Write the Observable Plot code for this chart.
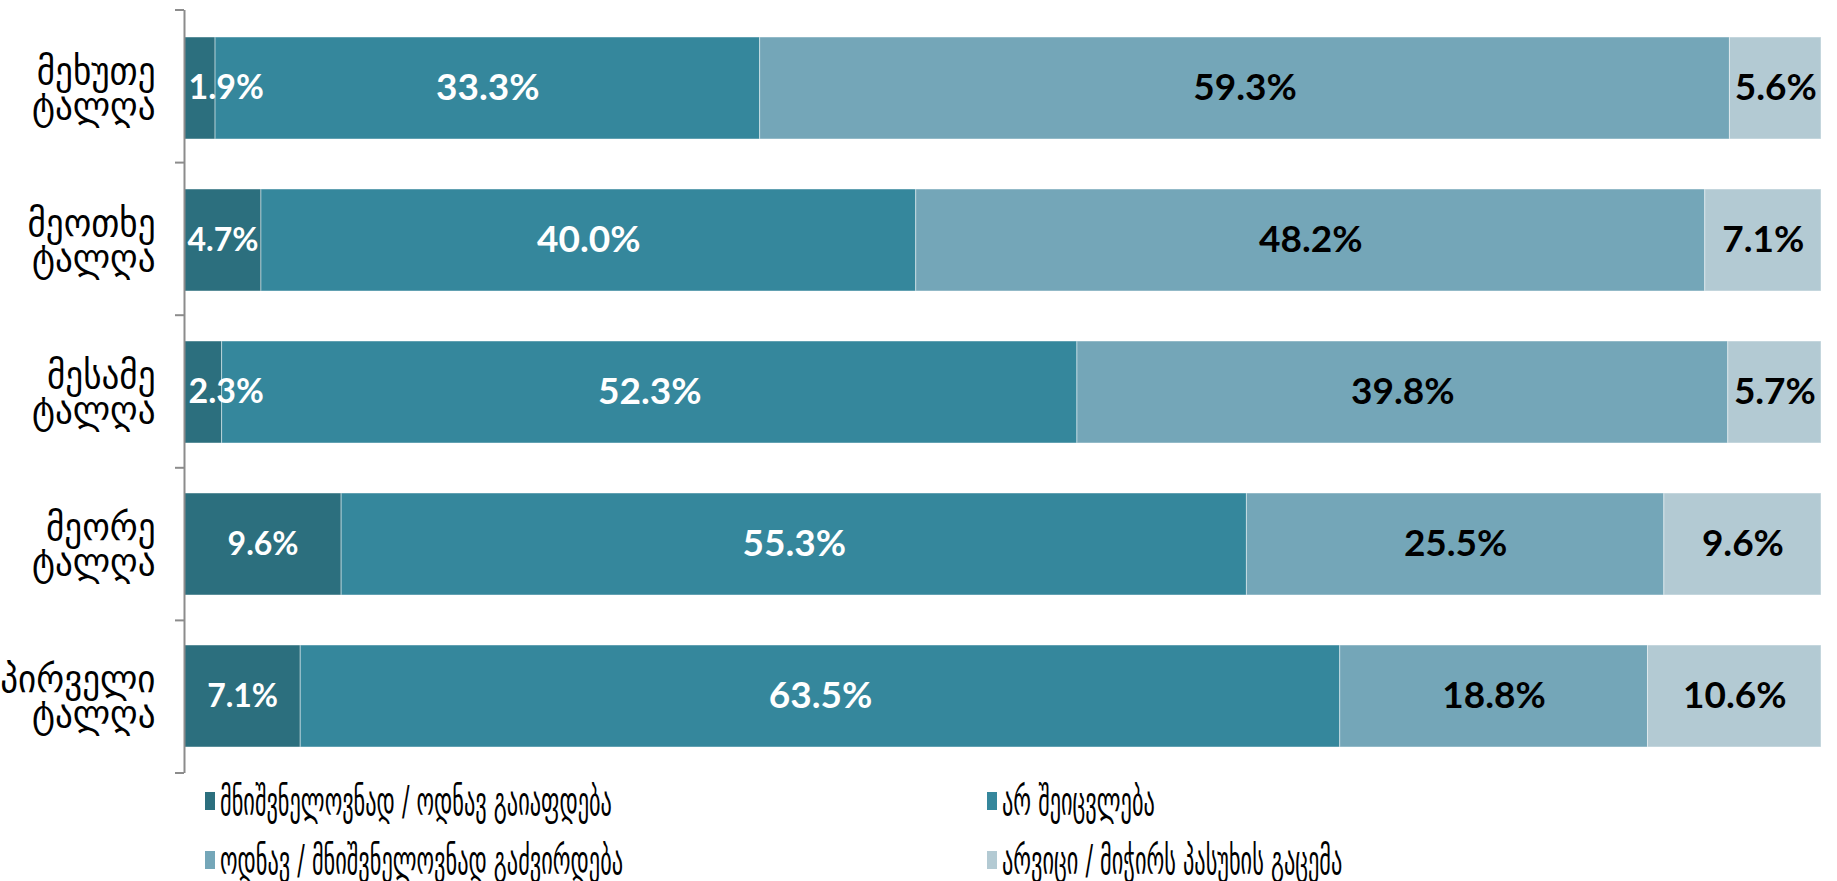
<!DOCTYPE html>
<html><head><meta charset="utf-8">
<script src="https://cdn.jsdelivr.net/npm/d3@7"></script>
<script src="https://cdn.jsdelivr.net/npm/@observablehq/plot@0.6"></script>
<style>
html,body{margin:0;padding:0;background:#fff;overflow:hidden;}
#legend{position:relative;width:1837px;height:105px;font-family:"DejaVu Sans Condensed","DejaVu Sans",sans-serif;color:#000;}
.item{position:absolute;height:30px;display:flex;align-items:center;white-space:nowrap;}
.sw{width:10px;height:18px;margin-right:5px;flex:none;}
.lb{font-size:40px;line-height:40px;display:inline-block;transform:scaleX(0.62);transform-origin:left center;}
</style></head>
<body><div id="chart"></div><div id="legend"></div>
<script>
const categories = ["მეხუთე ტალღა","მეოთხე ტალღა","მესამე ტალღა","მეორე ტალღა","პირველი ტალღა"];
const series = ["მნიშვნელოვნად / ოდნავ გაიაფდება","არ შეიცვლება","ოდნავ / მნიშვნელოვნად გაძვირდება","არვიცი / მიჭირს პასუხის გაცემა"];
const colors = ["#2c6f7e","#35879c","#74a6b8","#b3cad3"];
const cheaper  = [1.9, 4.7, 2.3, 9.6, 7.1];
const same     = [33.3, 40.0, 52.3, 55.3, 63.5];
const pricier  = [59.3, 48.2, 39.8, 25.5, 18.8];
const dontKnow = [5.6, 7.1, 5.7, 9.6, 10.6];
const seriesValues = [cheaper, same, pricier, dontKnow];

// build table (normalized 100% stacked)
const table = [];
categories.forEach((c, i) => {
  const total = d3.sum(seriesValues, s => s[i]);
  let acc = 0;
  seriesValues.forEach((s, k) => {
    const v = s[i];
    table.push({category: c, series: series[k], k, value: v, x1: acc / total, x2: (acc + v) / total});
    acc += v;
  });
});
const fmt = d => d.value.toFixed(1) + "%";
const mid = d => (d.x1 + d.x2) / 2;
const isSmall = d => d.value < 3;
const numFont = "Lato, 'Open Sans', sans-serif";

const plot = Plot.plot({
  width: 1837, height: 776,
  marginLeft: 184, marginRight: 16, marginTop: 10, marginBottom: 3,
  x: {domain: [0, 1], axis: null},
  y: {domain: categories, axis: null, padding: 0},
  color: {domain: series, range: colors},
  style: {background: "white", fontFamily: "'DejaVu Sans Condensed','DejaVu Sans',sans-serif"},
  marks: [
    Plot.barX(table, {x1: "x1", x2: "x2", y: "category", fill: "series", insetTop: 25, insetBottom: 25, stroke: "#ffffff", strokeOpacity: 0.45, strokeWidth: 1}),
    Plot.ruleX([0], {stroke: "#8c8c8c", strokeWidth: 2}),
    Plot.text(table.filter(d => d.k === 0 && !isSmall(d)), {x: mid, y: "category", text: fmt, fill: "white", fontSize: 32, fontWeight: 700, fontFamily: numFont}),
    Plot.text(table.filter(d => d.k === 0 && isSmall(d)), {x: "x1", y: "category", text: fmt, fill: "white", fontSize: 34, fontWeight: 700, fontFamily: numFont, textAnchor: "start", dx: 4}),
    Plot.text(table.filter(d => d.k === 1), {x: mid, y: "category", text: fmt, fill: "white", fontSize: 37, fontWeight: 700, fontFamily: numFont}),
    Plot.text(table.filter(d => d.k >= 2), {x: mid, y: "category", text: fmt, fill: "black", fontSize: 37, fontWeight: 700, fontFamily: numFont}),
    Plot.text(categories, {ariaLabel: "ylabels", y: d => d, frameAnchor: "left", text: d => d.replace(" ", "\n"), textAnchor: "end", dx: -29, dy: 2, fontSize: 39, lineHeight: 0.88, fill: "black"})
  ]
});
document.getElementById("chart").appendChild(plot);
const svg = d3.select(plot.tagName.toLowerCase() === "svg" ? plot : plot.querySelector("svg"));

// condense the category labels horizontally (as in the reference)
svg.selectAll('g[aria-label="ylabels"] text').each(function() {
  const t = this.getAttribute("transform") || "";
  this.setAttribute("transform", t + " scale(0.88,1)");
});

// category boundary ticks on the y axis, from the plot's own y scale
const sy = plot.scale("y");
const band = d3.scaleBand().domain(sy.domain).range(sy.range)
  .paddingInner(sy.paddingInner ?? sy.padding ?? 0).paddingOuter(sy.paddingOuter ?? sy.padding ?? 0).align(sy.align ?? 0.5);
const edges = [];
categories.forEach(c => { edges.push(band(c)); edges.push(band(c) + band.bandwidth()); });
const uniq = Array.from(new Set(edges.map(e => Math.round(e * 100) / 100)));
svg.append("g").selectAll("line").data(uniq).join("line")
  .attr("x1", 184 - 9).attr("x2", 184).attr("y1", d => d).attr("y2", d => d)
  .attr("stroke", "#8c8c8c").attr("stroke-width", 2);

// legend
const legend = d3.select("#legend");
const pos = [[205, 10], [987, 10], [205, 69], [987, 69]];
series.forEach((s, k) => {
  const it = legend.append("div").attr("class", "item").style("left", pos[k][0] + "px").style("top", pos[k][1] + "px");
  it.append("div").attr("class", "sw").style("background", colors[k]);
  it.append("span").attr("class", "lb").text(s);
});
</script></body></html>
